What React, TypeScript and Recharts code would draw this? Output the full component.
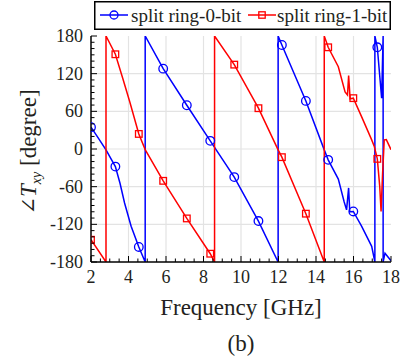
import React from 'react';
import { LineChart, Line, XAxis, YAxis, ReferenceLine, Legend } from 'recharts';

// ---- data ----
const xTicks = [2, 2.5, 3, 3.5, 4, 4.5, 5, 5.5, 6, 6.5, 7, 7.5, 8, 8.5, 9, 9.5, 10, 10.5, 11, 11.5, 12, 12.5, 13, 13.5, 14, 14.5, 15, 15.5, 16, 16.5, 17, 17.5, 18];
const xLabels = [2, 4, 6, 8, 10, 12, 14, 16, 18];
const yTicks = [-180, -170, -160, -150, -140, -130, -120, -110, -100, -90, -80, -70, -60, -50, -40, -30, -20, -10, 0, 10, 20, 30, 40, 50, 60, 70, 80, 90, 100, 110, 120, 130, 140, 150, 160, 170, 180];
const yLabels = [-180, -120, -60, 0, 60, 120, 180];
const xGrid = [4, 6, 8, 10, 12, 14, 16];
const yGrid = [-120, -60, 0, 60, 120];

const markerFreqs = [2, 3.3, 4.55, 5.85, 7.11, 8.36, 9.64, 10.93, 12.18, 13.46, 14.65, 15.99, 17.27];

const bit0Points: [number, number][] = [
  [2, 34.7], [2.4, 17], [2.8, -1.4], [3.3, -28], [3.55, -55], [3.79, -86], [4.14, -123], [4.55, -156],
  [4.89, -180], [4.89, 180], [5.85, 128], [7.11, 69.7], [8.36, 13], [9.64, -44.8], [10.93, -114.8],
  [11.98, -180], [11.98, 180], [12.18, 165.7], [13.46, 76.6], [14.44, -1.4], [14.65, -17.3], [15.19, -48],
  [15.5, -84], [15.63, -97], [15.74, -62], [15.8, -100], [15.99, -99.5], [16.43, -123], [16.97, -155],
  [17.14, -180], [17.14, 180], [17.27, 162], [17.5, 81], [17.58, 180], [17.58, -180], [17.68, -166], [18, -178],
];

const bit1Points: [number, number][] = [
  [2, -144.6], [2.8, -180], [2.8, 180], [3.3, 150.9], [3.7, 112], [4.07, 75], [4.55, 24], [4.89, -1],
  [5.85, -50.7], [7.11, -110.6], [8.36, -166.8], [8.59, -180], [8.59, 180], [9.64, 134.4], [10.93, 65],
  [11.98, -1.5], [12.18, -13], [13.46, -103], [14.44, -180], [14.44, 180], [14.65, 162], [15.19, 131],
  [15.55, 91], [15.68, 86], [15.74, 117], [15.82, 80], [15.99, 81], [16.43, 51.6], [16.97, 14.5],
  [17.11, 4], [17.27, -15.7], [17.4, -60], [17.47, -99.5], [17.55, -40], [17.64, 14.5], [17.75, 15], [18, -1],
];

const seriesNames = ['split ring-0-bit', 'split ring-1-bit'];

const bit0Data = bit0Points.map(([f, deg]) => ({ f, deg }));
const bit1Data = bit1Points.map(([f, deg]) => ({ f, deg }));

const BLUE = '#0000ff';
const RED = '#ff0000';
const FONT = '"Liberation Serif", "Times New Roman", serif';
const TXT = '#231f20';
const serif = { fontFamily: FONT };

const BottomTick = (props: any) => {
  const { x, y, payload } = props;
  const v = payload.value;
  const major = xLabels.includes(v);
  return (
    <g>
      <line x1={x} x2={x} y1={y} y2={y - (major ? 6 : 3.5)} stroke="#000" strokeWidth={1} />
      {major && (
        <text x={x} y={y + 21} textAnchor="middle" fontSize={18} style={serif} fill={TXT}>{v}</text>
      )}
    </g>
  );
};

const TopTick = (props: any) => {
  const { x, y, payload } = props;
  const major = xLabels.includes(payload.value);
  return <line x1={x} x2={x} y1={y} y2={y + (major ? 6 : 3.5)} stroke="#000" strokeWidth={1} />;
};

const LeftTick = (props: any) => {
  const { x, y, payload } = props;
  const v = payload.value;
  const major = yLabels.includes(v);
  return (
    <g>
      <line x1={x} x2={x + (major ? 6 : 3.5)} y1={y} y2={y} stroke="#000" strokeWidth={1} />
      {major && (
        <text x={x - 8} y={y + 6} textAnchor="end" fontSize={18} style={serif} fill={TXT}>{v}</text>
      )}
    </g>
  );
};

const RightTick = (props: any) => {
  const { x, y, payload } = props;
  const major = yLabels.includes(payload.value);
  return <line x1={x} x2={x - (major ? 6 : 3.5)} y1={y} y2={y} stroke="#000" strokeWidth={1} />;
};

const XLabel = (props: any) => {
  const vb = props.viewBox || { x: 91, y: 262, width: 300 };
  const cx = vb.x + vb.width / 2;
  return (
    <g>
      <text x={cx} y={vb.y + 53} textAnchor="middle" fontSize={23} style={serif} fill={TXT}>Frequency [GHz]</text>
      <text x={cx} y={vb.y + 89} textAnchor="middle" fontSize={23} style={serif} fill={TXT}>(b)</text>
    </g>
  );
};

const YLabel = (props: any) => {
  const vb = props.viewBox || { x: 31, y: 36, width: 60, height: 226 };
  const cx = vb.x + 5;
  const cy = vb.y + vb.height / 2 + 3;
  return (
    <text x={cx} y={cy} textAnchor="middle" fontSize={23} style={serif} fill={TXT} transform={`rotate(-90, ${cx}, ${cy})`}>
      <tspan style={{ fontFamily: '"DejaVu Serif", "DejaVu Sans", serif' }} fontSize={21}>∠</tspan>
      <tspan fontStyle="italic">T</tspan>
      <tspan fontStyle="italic" fontSize={14} dy={5}>xy</tspan>
      <tspan dy={-5}>{' [degree]'}</tspan>
    </text>
  );
};

const makeDot = (color: string, shape: 'circle' | 'square') => (props: any) => {
  const { cx, cy, payload, index } = props;
  if (!markerFreqs.includes(payload.f) || cx == null || cy == null) return <g key={`d-${index}`} />;
  if (shape === 'circle') {
    return <circle key={`d-${index}`} cx={cx} cy={cy} r={4.3} fill="none" stroke={color} strokeWidth={1.3} />;
  }
  return <rect key={`d-${index}`} x={cx - 3.3} y={cy - 3.3} width={6.6} height={6.6} fill="none" stroke={color} strokeWidth={1.3} />;
};

const LegendBox = () => (
  <svg width={297} height={29} style={{ display: 'block' }}>
    <rect x={0.75} y={0.75} width={295.5} height={27.5} fill="#fff" stroke="#000" strokeWidth={1.5} />
    <line x1={6} x2={34} y1={14} y2={14} stroke={BLUE} strokeWidth={1.5} />
    <circle cx={20} cy={14} r={4} fill="none" stroke={BLUE} strokeWidth={1.3} />
    <text x={37} y={21} fontSize={19} style={serif} fill={TXT}>{seriesNames[0]}</text>
    <line x1={154} x2={182} y1={14} y2={14} stroke={RED} strokeWidth={1.5} />
    <rect x={164.8} y={10.8} width={6.4} height={6.4} fill="none" stroke={RED} strokeWidth={1.3} />
    <text x={183} y={21} fontSize={19} style={serif} fill={TXT}>{seriesNames[1]}</text>
  </svg>
);

export default function App() {
  return (
    <div style={{ position: 'absolute', left: 0, top: 0, width: 408, height: 363, background: '#fff' }}>
      <LineChart width={408} height={363} margin={{ top: 36, right: 17, bottom: 71, left: 31 }} style={serif}>
        <XAxis
          xAxisId="b"
          type="number"
          dataKey="f"
          domain={[2, 18]}
          ticks={xTicks}
          interval={0}
          allowDataOverflow
          height={30}
          tickSize={0}
          tickMargin={0}
          tickLine={false}
          tick={<BottomTick />}
          axisLine={{ stroke: '#000', strokeWidth: 1.5 }}
          label={<XLabel />}
        />
        <XAxis
          xAxisId="t"
          orientation="top"
          type="number"
          dataKey="f"
          domain={[2, 18]}
          ticks={xTicks}
          interval={0}
          allowDataOverflow
          height={0}
          tickSize={0}
          tickMargin={0}
          tickLine={false}
          tick={<TopTick />}
          axisLine={{ stroke: '#000', strokeWidth: 1.5 }}
        />
        <YAxis
          yAxisId="l"
          type="number"
          domain={[-180, 180]}
          ticks={yTicks}
          interval={0}
          allowDataOverflow
          width={60}
          tickSize={0}
          tickMargin={0}
          tickLine={false}
          tick={<LeftTick />}
          axisLine={{ stroke: '#000', strokeWidth: 1.5 }}
          label={<YLabel />}
        />
        <YAxis
          yAxisId="r"
          orientation="right"
          type="number"
          domain={[-180, 180]}
          ticks={yTicks}
          interval={0}
          allowDataOverflow
          width={0}
          tickSize={0}
          tickMargin={0}
          tickLine={false}
          tick={<RightTick />}
          axisLine={{ stroke: '#000', strokeWidth: 1.5 }}
        />
        {xGrid.map((v) => (
          <ReferenceLine key={`gx${v}`} x={v} xAxisId="b" yAxisId="l" stroke="#e3e3e3" strokeWidth={1.2} />
        ))}
        {yGrid.map((v) => (
          <ReferenceLine key={`gy${v}`} y={v} xAxisId="b" yAxisId="l" stroke="#e3e3e3" strokeWidth={1.2} />
        ))}
        <Line
          data={bit0Data}
          dataKey="deg"
          name={seriesNames[0]}
          xAxisId="b"
          yAxisId="l"
          type="linear"
          stroke={BLUE}
          strokeWidth={1.5}
          dot={makeDot(BLUE, 'circle')}
          activeDot={false}
          isAnimationActive={false}
        />
        <Line
          data={bit1Data}
          dataKey="deg"
          name={seriesNames[1]}
          xAxisId="b"
          yAxisId="l"
          type="linear"
          stroke={RED}
          strokeWidth={1.5}
          dot={makeDot(RED, 'square')}
          activeDot={false}
          isAnimationActive={false}
        />
        <Legend
          layout="horizontal"
          verticalAlign="middle"
          align="center"
          content={<LegendBox />}
          wrapperStyle={{ top: 1, left: 94, width: 297, height: 29 }}
        />
      </LineChart>
    </div>
  );
}
